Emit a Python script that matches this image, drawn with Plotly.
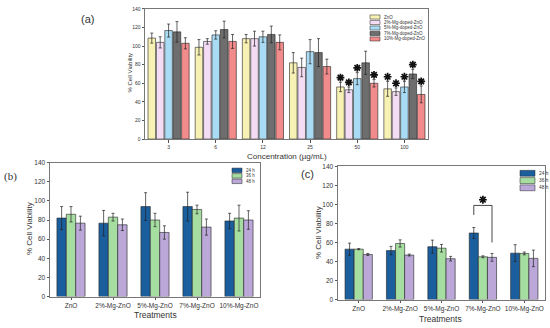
import plotly.graph_objects as go

W, H = 550, 328

# ---------------- data ----------------
conc = ["3", "6", "12", "25", "50", "100"]
a_names = ["ZnO", "2%-Mg-doped-ZnO", "5%-Mg-doped-ZnO", "7%-Mg-doped-ZnO", "10%-Mg-doped-ZnO"]
a_zno = [108.6, 98.7, 108.0, 82.0, 56.0, 54.0]
a_zno_err = [5.4, 8.3, 4.5, 11.0, 5.0, 8.0]
a_mg2 = [104.0, 105.0, 108.0, 77.0, 53.0, 51.0]
a_mg2_err = [6.0, 3.0, 8.0, 10.0, 3.0, 4.0]
a_mg5 = [116.7, 112.0, 110.0, 94.0, 65.0, 56.0]
a_mg5_err = [7.0, 4.5, 6.0, 13.0, 6.5, 6.0]
a_mg7 = [115.3, 117.8, 112.5, 93.0, 82.0, 70.0]
a_mg7_err = [11.0, 9.0, 9.0, 15.0, 12.5, 5.0]
a_mg10 = [103.0, 105.0, 104.0, 78.0, 60.0, 48.0]
a_mg10_err = [6.0, 7.5, 8.0, 8.0, 4.0, 9.0]
# significance flags (star) per series per concentration
a_zno_sig = [0, 0, 0, 0, 1, 1]
a_mg2_sig = [0, 0, 0, 0, 1, 1]
a_mg5_sig = [0, 0, 0, 0, 1, 1]
a_mg7_sig = [0, 0, 0, 0, 0, 1]
a_mg10_sig = [0, 0, 0, 0, 1, 1]

treat = ["ZnO", "2%-Mg-ZnO", "5%-Mg-ZnO", "7%-Mg-ZnO", "10%-Mg-ZnO"]
times = ["24 h", "36 h", "48 h"]
b_24 = [82.0, 76.7, 94.0, 94.0, 79.0]
b_24_err = [12.0, 13.3, 14.5, 15.0, 8.0]
b_36 = [86.0, 83.0, 80.0, 91.0, 82.0]
b_36_err = [8.0, 4.0, 7.0, 4.5, 13.5]
b_48 = [76.7, 75.0, 67.0, 72.6, 80.0]
b_48_err = [7.3, 6.0, 7.0, 8.4, 9.7]

c_24 = [53.0, 51.5, 55.6, 70.0, 48.8]
c_24_err = [6.4, 4.5, 6.9, 5.8, 8.9]
c_36 = [53.0, 59.0, 54.0, 45.0, 48.5]
c_36_err = [0.6, 3.8, 4.0, 1.0, 1.5]
c_48 = [47.4, 46.8, 43.0, 44.4, 43.3]
c_48_err = [1.1, 1.0, 2.4, 4.1, 8.7]

yticks = [0, 20, 40, 60, 80, 100, 120, 140]

# ---------------- styles ----------------
a_colors = ["#F7F2B4", "#F4DDF4", "#A9DCF4", "#6E6E6E", "#F28B8B"]
t_colors = ["#1B5E9E", "#A6DDA0", "#BBA8D9"]
FONT = "Liberation Sans, Arial, sans-serif"
TXT = "#333333"
STAR = dict(symbol="asterisk-open", size=6.5, color="#111111", line=dict(color="#111111", width=1.7))

fig = go.Figure()


def add_group(xaxis, yaxis, cats, series, errs, colors, gwidth, gap):
    n = len(series)
    slot = gwidth / n
    w = slot * (1 - gap)
    centers = []
    for k, (vals, err, col) in enumerate(zip(series, errs, colors)):
        off = -gwidth / 2 + k * slot + (slot - w) / 2
        fig.add_trace(go.Bar(
            x=list(range(len(cats))), y=vals, width=w, offset=off,
            marker=dict(color=col, line=dict(color="#222222", width=0.6)),
            error_y=dict(type="data", array=err, color="#222222", thickness=0.7, width=1.5),
            xaxis=xaxis, yaxis=yaxis, showlegend=False, hoverinfo="skip"))
        centers.append([i + off + w / 2 for i in range(len(cats))])
    return centers


# panel a
a_series = [a_zno, a_mg2, a_mg5, a_mg7, a_mg10]
a_errs = [a_zno_err, a_mg2_err, a_mg5_err, a_mg7_err, a_mg10_err]
a_sigs = [a_zno_sig, a_mg2_sig, a_mg5_sig, a_mg7_sig, a_mg10_sig]
a_cent = add_group("x", "y", conc, a_series, a_errs, a_colors, 0.89, 0.1)
sx, sy = [], []
for cen, vals, err, sig in zip(a_cent, a_series, a_errs, a_sigs):
    for xc, v, e, s in zip(cen, vals, err, sig):
        if s:
            sx.append(xc)
            sy.append(v + e + 5)
fig.add_trace(go.Scatter(x=sx, y=sy, mode="markers", xaxis="x", yaxis="y", marker=STAR,
                         showlegend=False, hoverinfo="skip"))

# panel b
add_group("x2", "y2", treat, [b_24, b_36, b_48], [b_24_err, b_36_err, b_48_err], t_colors, 0.67, 0.0)
# panel c
c_cent = add_group("x3", "y3", treat, [c_24, c_36, c_48], [c_24_err, c_36_err, c_48_err], t_colors, 0.66, 0.0)

# bracket in c (7%-Mg-ZnO: 24 h vs 48 h)
gi = 3
xl, xr = c_cent[0][gi], c_cent[2][gi]
fig.add_trace(go.Scatter(x=[xl, xl, xr, xr], y=[89, 99, 99, 60], mode="lines",
                         line=dict(color="#333", width=0.9), xaxis="x3", yaxis="y3",
                         showlegend=False, hoverinfo="skip"))
fig.add_trace(go.Scatter(x=[(xl + xr) / 2], y=[105], mode="markers", xaxis="x3", yaxis="y3",
                         marker=STAR, showlegend=False, hoverinfo="skip"))


def px(x):
    return x / W


def py(y):
    return 1 - y / H


def xax(x0, x1, cats, fs, anchor):
    return dict(domain=[px(x0), px(x1)], range=[-0.5, len(cats) - 0.5], anchor=anchor,
                tickvals=list(range(len(cats))), ticktext=cats, ticks="outside", ticklen=2.5,
                tickwidth=0.8, tickcolor="#555", showline=True, linecolor="#777", linewidth=1,
                mirror=True, showgrid=False, zeroline=False,
                tickfont=dict(size=fs, color=TXT, family=FONT))


def yax(y0, y1, fs, anchor):
    return dict(domain=[py(y1), py(y0)], range=[0, 140], anchor=anchor,
                tickvals=yticks, ticks="outside", ticklen=2.5, tickwidth=0.8, tickcolor="#555",
                showline=True, linecolor="#777", linewidth=1, mirror=True, showgrid=False,
                zeroline=False, tickfont=dict(size=fs, color=TXT, family=FONT))


fig.update_layout(
    width=W, height=H, margin=dict(l=0, r=0, t=0, b=0),
    paper_bgcolor="white", plot_bgcolor="white", barmode="overlay",
    font=dict(family=FONT, color=TXT),
    xaxis=xax(145, 428, conc, 5, "y"),
    yaxis=yax(5, 138, 5, "x"),
    xaxis2=xax(50, 260, treat, 6.5, "y2"),
    yaxis2=yax(162, 299, 6.5, "x2"),
    xaxis3=xax(338, 545, treat, 6.5, "y3"),
    yaxis3=yax(166, 302, 6.5, "x3"),
)

ann = []
shapes = []


def text(x, y, s, size, angle=0, family=FONT, xanchor="center", color=TXT):
    ann.append(dict(x=px(x), y=py(y), xref="paper", yref="paper", text=s, showarrow=False,
                    font=dict(size=size, family=family, color=color), textangle=angle,
                    xanchor=xanchor, yanchor="middle"))


# axis titles
text(130, 70, "% Cell Viability", 6, angle=-90)
text(287, 156, "Concentration (µg/mL)", 8)
text(29, 230, "% Cell Viability", 8, angle=-90)
text(155, 318, "Treatments", 8.5)
text(318, 234, "% Cell Viability", 8, angle=-90)
text(441, 322, "Treatments", 8.5)
# panel labels
text(87, 15, "(a)", 11)
text(10, 176, "(b)", 11, family="Liberation Serif, serif")
text(307, 174, "(c)", 11)


# custom legends
def legend(x0, y0, dy, sw, sh, labels, colors, fs):
    for i, (lab, col) in enumerate(zip(labels, colors)):
        yc = y0 + i * dy
        shapes.append(dict(type="rect", xref="paper", yref="paper",
                           x0=px(x0), x1=px(x0 + sw), y0=py(yc + sh / 2), y1=py(yc - sh / 2),
                           fillcolor=col, line=dict(color="#222", width=0.5)))
        text(x0 + sw + 1.5, yc, lab, fs, xanchor="left")


legend(370, 13.3, 5.6, 10, 4.2, a_names, a_colors, 4.5)
legend(232, 170, 5.6, 10, 4.6, times, t_colors, 4.5)
legend(520, 173, 7.4, 15, 6, times, t_colors, 4.8)

fig.update_layout(annotations=ann, shapes=shapes)
fig.write_html("out.html", config={"displayModeBar": False},
               post_script="document.body.style.margin='0';document.body.style.overflow='hidden';")
